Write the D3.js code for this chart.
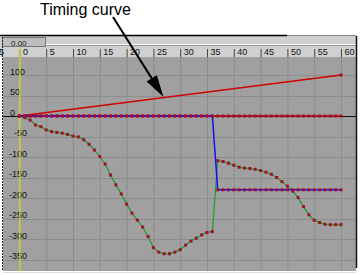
<!DOCTYPE html>
<html>
<head>
<meta charset="utf-8">
<script src="https://cdn.jsdelivr.net/npm/d3@7"></script>
<style>
  html, body { margin: 0; padding: 0; background: #fff; }
  svg { display: block; font-family: "Liberation Sans", Arial, sans-serif; }
</style>
</head>
<body>
<svg width="363" height="275"></svg>
<script>
// frames shown on the ruler and value ticks on the left
const rulerTicks = [-5, 0, 5, 10, 15, 20, 25, 30, 35, 40, 45, 50, 55, 60];
const valueTicks = [100, 50, 0, -50, -100, -150, -200, -250, -300, -350];

// green animation curve, one key per frame
const greenFrames = [0, 1, 2, 3, 4, 5, 6, 7, 8, 9, 10, 11, 12, 13, 14, 15, 16, 17, 18, 19, 20,
  21, 22, 23, 24, 25, 26, 27, 28, 29, 30, 31, 32, 33, 34, 35, 36, 37, 38, 39, 40,
  41, 42, 43, 44, 45, 46, 47, 48, 49, 50, 51, 52, 53, 54, 55, 56, 57, 58, 59, 60];
const greenValues = [0, -4, -10, -22, -26, -34, -38, -40, -42, -45, -49, -51, -58, -69, -83, -99, -117, -144, -168, -190, -215,
  -237, -254, -271, -294, -321, -332, -336, -336, -332, -326, -315, -305, -298, -290, -284, -282, -109, -111, -115, -120,
  -125, -127, -128, -130, -133, -137, -142, -150, -160, -171, -183, -199, -221, -241, -254, -260, -264, -265, -265, -265];

// blue curve: holds at 0 then snaps down
const blueFrames = [0, 1, 2, 3, 4, 5, 6, 7, 8, 9, 10, 11, 12, 13, 14, 15, 16, 17, 18, 19, 20,
  21, 22, 23, 24, 25, 26, 27, 28, 29, 30, 31, 32, 33, 34, 35, 36, 37, 38, 39, 40,
  41, 42, 43, 44, 45, 46, 47, 48, 49, 50, 51, 52, 53, 54, 55, 56, 57, 58, 59, 60];
const blueValues = [0, 0, 0, 0, 0, 0, 0, 0, 0, 0, 0, 0, 0, 0, 0, 0, 0, 0, 0, 0, 0,
  0, 0, 0, 0, 0, 0, 0, 0, 0, 0, 0, 0, 0, 0, 0, 0, -180, -180, -180, -180,
  -180, -180, -180, -180, -180, -180, -180, -180, -180, -180, -180, -180, -180, -180, -180, -180, -180, -180, -180, -180];

// red flat curve at zero (keys every frame)
const flatFrames = blueFrames;
const flatValues = [0, 0, 0, 0, 0, 0, 0, 0, 0, 0, 0, 0, 0, 0, 0, 0, 0, 0, 0, 0, 0,
  0, 0, 0, 0, 0, 0, 0, 0, 0, 0, 0, 0, 0, 0, 0, 0, 0, 0, 0, 0,
  0, 0, 0, 0, 0, 0, 0, 0, 0, 0, 0, 0, 0, 0, 0, 0, 0, 0, 0, 0];

// the timing curve (straight line)
const timingFrames = [0, 60];
const timingValues = [0, 100];

const svg = d3.select("svg");
const x = d3.scaleLinear().domain([0, 60]).range([19.4, 341]);
const y = d3.scaleLinear().domain([0, -350]).range([116, 259.5]);

const plotTop = 57, plotBottom = 271, plotLeft = 3, plotRight = 356;

// header band + ruler
svg.append("rect").attr("x", 0).attr("y", 36).attr("width", plotRight).attr("height", 21).attr("fill", "#d0d0d0");
svg.append("line").attr("x1", 0).attr("x2", 287).attr("y1", 35.5).attr("y2", 35.5).attr("stroke", "#000").attr("stroke-width", 1.5);
svg.append("line").attr("x1", 287).attr("x2", plotRight).attr("y1", 35.5).attr("y2", 35.5).attr("stroke", "#888");
svg.append("line").attr("x1", 45).attr("x2", plotRight - 1).attr("y1", 44.5).attr("y2", 44.5).attr("stroke", "#fff");
svg.append("line").attr("x1", 45).attr("x2", plotRight - 1).attr("y1", 45.5).attr("y2", 45.5).attr("stroke", "#999");
svg.append("rect").attr("x", 2.5).attr("y", 37.5).attr("width", 43).attr("height", 9).attr("fill", "#bdbdbd").attr("stroke", "#777");
svg.append("text").attr("x", 11).attr("y", 45.5).attr("font-size", 8).attr("fill", "#222").text("0.00");

// plot background
svg.append("rect").attr("x", plotLeft).attr("y", plotTop).attr("width", plotRight - plotLeft).attr("height", plotBottom - plotTop).attr("fill", "#a0a0a0");

// grid
svg.append("g").selectAll("line").data(rulerTicks).join("line")
  .attr("x1", d => x(d) + 0.5).attr("x2", d => x(d) + 0.5)
  .attr("y1", plotTop).attr("y2", plotBottom)
  .attr("stroke", "#8c8c8c");
svg.append("g").selectAll("line").data(valueTicks).join("line")
  .attr("x1", plotLeft).attr("x2", plotRight)
  .attr("y1", d => Math.round(y(d)) + 0.5).attr("y2", d => Math.round(y(d)) + 0.5)
  .attr("stroke", "#8c8c8c");

// ruler ticks + labels
const ruler = svg.append("g");
ruler.selectAll("line").data(rulerTicks).join("line")
  .attr("x1", d => x(d) + 0.5).attr("x2", d => x(d) + 0.5)
  .attr("y1", 49).attr("y2", plotTop)
  .attr("stroke", "#444");
ruler.selectAll("text").data(rulerTicks).join("text")
  .attr("x", d => x(d) + 3.5).attr("y", 55)
  .attr("font-size", 9).attr("fill", "#111")
  .text(d => d);

// value labels
svg.append("g").selectAll("text").data(valueTicks).join("text")
  .attr("x", d => d < 0 ? 27 : 10)
  .attr("text-anchor", d => d < 0 ? "end" : "start")
  .attr("y", d => y(d) - 0.5)
  .attr("font-size", 9).attr("fill", "#111")
  .text(d => d);

// zero axis
svg.append("line").attr("x1", plotLeft).attr("x2", plotRight).attr("y1", y(0) + 0.5).attr("y2", y(0) + 0.5).attr("stroke", "#111");

// current time marker
svg.append("line").attr("x1", x(0) + 0.5).attr("x2", x(0) + 0.5).attr("y1", 47).attr("y2", plotBottom).attr("stroke", "#f0f000");

// frame borders
svg.append("line").attr("x1", 2.5).attr("x2", 2.5).attr("y1", 37).attr("y2", plotBottom).attr("stroke", "#222").attr("stroke-dasharray", "2,1");
svg.append("line").attr("x1", plotRight + 0.5).attr("x2", plotRight + 0.5).attr("y1", 36).attr("y2", 268).attr("stroke", "#111").attr("stroke-width", 1.5);
svg.append("line").attr("x1", plotLeft).attr("x2", plotRight).attr("y1", 272.5).attr("y2", 272.5).attr("stroke", "#ddd");

const line = d3.line().x(d => x(d[0])).y(d => y(d[1]));
const zip = (f, v) => f.map((d, i) => [d, v[i]]);

const greenPts = zip(greenFrames, greenValues);
const bluePts = zip(blueFrames, blueValues);
const flatPts = zip(flatFrames, flatValues);
const timingPts = zip(timingFrames, timingValues);

svg.append("path").attr("d", line(timingPts)).attr("fill", "none").attr("stroke", "#d00000").attr("stroke-width", 1.3);
svg.append("path").attr("d", line(greenPts)).attr("fill", "none").attr("stroke", "#1e9e1e").attr("stroke-width", 1.2);
svg.append("path").attr("d", line(flatPts)).attr("fill", "none").attr("stroke", "#c00010").attr("stroke-width", 1.5);
svg.append("path").attr("d", line(bluePts)).attr("fill", "none").attr("stroke", "#1010ff").attr("stroke-width", 1.5);

// key dots
const dotColor = "#a0102c";
[greenPts, flatPts, bluePts, timingPts.slice(1)].forEach(pts => {
  svg.append("g").selectAll("rect").data(pts).join("rect")
    .attr("x", d => x(d[0]) - 1.5).attr("y", d => y(d[1]) - 1.5)
    .attr("width", 3).attr("height", 3)
    .attr("fill", dotColor);
});

// annotation
svg.append("text").attr("x", 40).attr("y", 14.5).attr("font-size", 16).attr("fill", "#000").text("Timing curve");
const a0 = [113, 17], tip = [163.5, 97];
const len = Math.hypot(tip[0] - a0[0], tip[1] - a0[1]);
const ux = (tip[0] - a0[0]) / len, uy = (tip[1] - a0[1]) / len;
const headL = 22, headW = 6;
const bx = tip[0] - ux * headL, by = tip[1] - uy * headL;
svg.append("line").attr("x1", a0[0]).attr("y1", a0[1]).attr("x2", bx).attr("y2", by).attr("stroke", "#000").attr("stroke-width", 2);
svg.append("polygon")
  .attr("points", [tip, [bx - uy * headW, by + ux * headW], [bx + uy * headW, by - ux * headW]].map(p => p.join(",")).join(" "))
  .attr("fill", "#000");
</script>
</body>
</html>
